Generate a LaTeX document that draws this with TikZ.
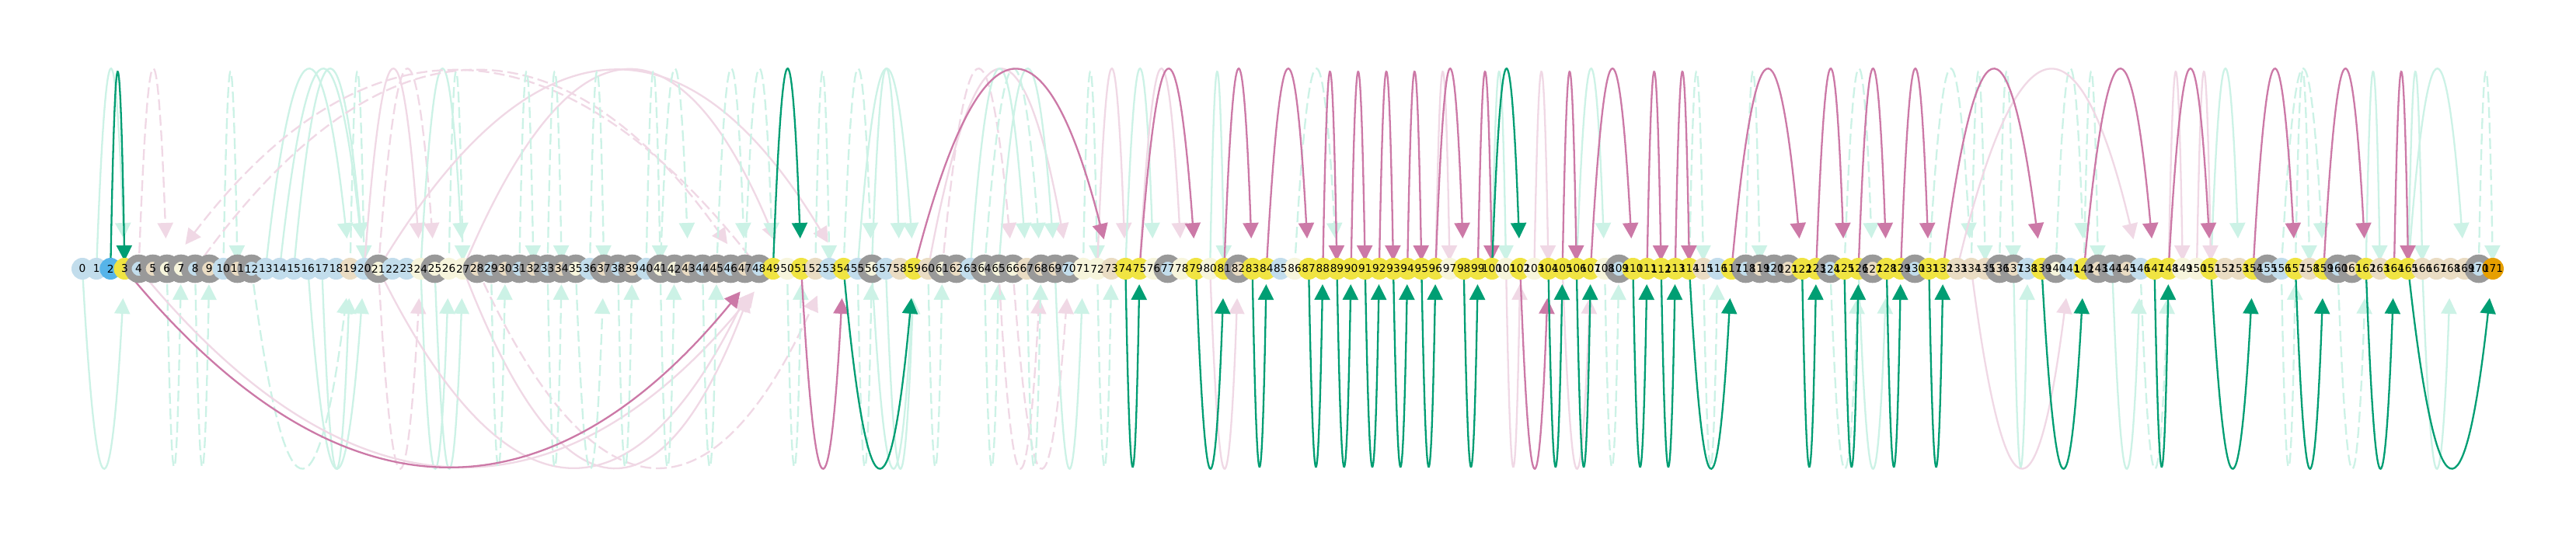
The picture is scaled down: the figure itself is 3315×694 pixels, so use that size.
\documentclass[tikz,border=0pt]{standalone}
\usepackage{fontspec}
\newfontfamily\djv{DejaVu Sans}
\usetikzlibrary{arrows.meta}
\definecolor{cL}{HTML}{C2DDEC}
\definecolor{cB}{HTML}{56B4E9}
\definecolor{cY}{HTML}{F0E442}
\definecolor{cE}{HTML}{EADCC3}
\definecolor{cC}{HTML}{F7F5DC}
\definecolor{cO}{HTML}{E69F00}
\definecolor{cR}{HTML}{999999}
\definecolor{dG}{HTML}{009E73}
\definecolor{dP}{HTML}{CC79A7}
\definecolor{fG}{HTML}{CCF2E6}
\definecolor{fP}{HTML}{F0D8E5}
\tikzset{
 edgebase/.style={line width=1.15pt,-{Triangle[length=10pt,width=10pt]}},
 dg/.style={edgebase,draw=dG},
 dp/.style={edgebase,draw=dP},
 fg/.style={edgebase,draw=fG},
 fgd/.style={fg,dash pattern=on 7pt off 3pt},
 fp/.style={edgebase,draw=fP},
 fpd/.style={fp,dash pattern=on 7pt off 3pt},
 plainnode/.style={circle,inner sep=0pt,minimum size=14pt},
 ringnode/.style={circle,inner sep=0pt,minimum size=13.7pt,draw=cR,line width=4.6pt},
 lab/.style={font=\djv\fontsize{6.85pt}{7pt}\selectfont,inner sep=0pt},
}
\newcommand\arcgen[5]{%
  \pgfmathsetmacro\arcxa{106+18.14*#2}%
  \pgfmathsetmacro\arcxb{106+18.14*#3}%
  \pgfmathsetmacro\arcca{\arcxa+(\arcxb-\arcxa)/3}%
  \pgfmathsetmacro\arccb{\arcxb-(\arcxb-\arcxa)/3}%
  \draw[#1,shorten >=#5] (p#2) .. controls (\arcca,#4) and (\arccb,#4) .. (p#3);%
}
\newcommand\arcU[3]{\pgfmathtruncatemacro\arcsp{abs(#3-#2)}\ifnum\arcsp=1 \arcgen{#1}{#2}{#3}{12.67}{5pt}\else\arcgen{#1}{#2}{#3}{12.67}{19.5pt}\fi}
\newcommand\arcD[3]{\pgfmathtruncatemacro\arcsp{abs(#3-#2)}\ifnum\arcsp=1 \arcgen{#1}{#2}{#3}{679.33}{10pt}\else\arcgen{#1}{#2}{#3}{679.33}{19pt}\fi}
\begin{document}
\begin{tikzpicture}[x=0.5pt,y=-0.5pt]
\useasboundingbox (0,0) rectangle (3315,694);
\fill[white] (0,0) rectangle (3315,694);
\foreach \i in {0,...,171} \coordinate (p\i) at ({106+18.14*\i},346);
% faint arcs above
\arcU{fg}{1}{3}
\arcU{fpd}{4}{6}
\arcU{fgd}{10}{11}
\arcU{fg}{13}{19}
\arcU{fg}{14}{20}
\arcU{fg}{15}{20}
\arcU{fgd}{19}{20}
\arcU{fp}{20}{24}
\arcU{fpd}{21}{25}
\arcU{fg}{24}{27}
\arcU{fgd}{26}{27}
\arcU{fpd}{48}{6}
\arcU{fpd}{8}{47}
\arcU{fp}{21}{54}
\arcU{fp}{27}{50}
\arcU{fgd}{31}{32}
\arcU{fgd}{33}{34}
\arcU{fgd}{36}{37}
\arcU{fgd}{40}{41}
\arcU{fgd}{41}{43}
\arcU{fgd}{45}{47}
\arcU{fgd}{47}{49}
\arcU{fgd}{52}{53}
\arcU{fgd}{54}{56}
\arcU{fg}{55}{59}
\arcU{fg}{56}{58}
\arcU{fpd}{61}{66}
\arcU{fp}{60}{70}
\arcU{fg}{63}{67}
\arcU{fgd}{64}{68}
\arcU{fg}{65}{69}
\arcU{fgd}{71}{72}
\arcU{fp}{72}{74}
\arcU{fg}{74}{76}
\arcU{fp}{75}{78}
\arcU{fg}{80}{81}
\arcU{fgd}{86}{89}
\arcU{fp}{96}{97}
\arcU{fg}{100}{101}
\arcU{fp}{103}{104}
\arcU{fg}{106}{108}
\arcU{fgd}{114}{115}
\arcU{fgd}{118}{119}
\arcU{fgd}{125}{127}
\arcU{fgd}{131}{134}
\arcU{fgd}{134}{135}
\arcU{fgd}{136}{137}
\arcU{fgd}{140}{142}
\arcU{fgd}{142}{143}
\arcU{fg}{151}{153}
\arcU{fgd}{157}{158}
\arcU{fgd}{156}{159}
\arcU{fg}{162}{163}
\arcU{fg}{165}{166}
\arcU{fg}{165}{169}
\arcU{fgd}{170}{171}
\arcU{fp}{133}{146}
\arcU{fp}{148}{149}
\arcU{fp}{150}{151}
% faint arcs below
\arcD{fg}{0}{3}
\arcD{fgd}{6}{7}
\arcD{fgd}{8}{9}
\arcD{fgd}{12}{19}
\arcD{fg}{16}{20}
\arcD{fg}{17}{19}
\arcD{fpd}{21}{24}
\arcD{fg}{24}{26}
\arcD{fg}{25}{27}
\arcD{fp}{21}{48}
\arcD{fp}{4}{49}
\arcD{fpd}{28}{53}
\arcD{fp}{27}{48}
\arcD{fgd}{29}{30}
\arcD{fgd}{33}{34}
\arcD{fgd}{35}{37}
\arcD{fgd}{38}{39}
\arcD{fgd}{41}{42}
\arcD{fgd}{44}{45}
\arcD{fgd}{50}{51}
\arcD{fgd}{55}{56}
\arcD{fg}{56}{59}
\arcD{fg}{57}{59}
\arcD{fgd}{60}{61}
\arcD{fgd}{64}{65}
\arcD{fpd}{65}{68}
\arcD{fpd}{66}{70}
\arcD{fgd}{67}{68}
\arcD{fg}{69}{71}
\arcD{fgd}{72}{73}
\arcD{fp}{80}{82}
\arcD{fp}{101}{102}
\arcD{fp}{105}{107}
\arcD{fgd}{108}{109}
\arcD{fgd}{115}{116}
\arcD{fgd}{124}{126}
\arcD{fg}{126}{128}
\arcD{fp}{134}{141}
\arcD{fg}{137}{138}
\arcD{fg}{144}{146}
\arcD{fgd}{146}{148}
\arcD{fgd}{156}{157}
\arcD{fgd}{160}{162}
\arcD{fg}{166}{168}
% dark arcs above
\arcU{dg}{2}{3}
\arcU{dg}{49}{51}
\arcU{dp}{59}{73}
\arcU{dp}{75}{79}
\arcU{dp}{81}{83}
\arcU{dp}{84}{87}
\arcU{dp}{88}{89}
\arcU{dp}{90}{91}
\arcU{dp}{92}{93}
\arcU{dp}{94}{95}
\arcU{dp}{96}{98}
\arcU{dp}{99}{100}
\arcU{dg}{100}{102}
\arcU{dp}{105}{106}
\arcU{dp}{107}{110}
\arcU{dp}{111}{112}
\arcU{dp}{113}{114}
\arcU{dp}{117}{122}
\arcU{dp}{123}{125}
\arcU{dp}{126}{128}
\arcU{dp}{129}{131}
\arcU{dp}{132}{139}
\arcU{dp}{142}{147}
\arcU{dp}{148}{151}
\arcU{dp}{154}{157}
\arcU{dp}{159}{162}
\arcU{dp}{164}{165}
% dark arcs below
\arcD{dp}{3}{48}
\arcD{dp}{51}{54}
\arcD{dg}{54}{59}
\arcD{dg}{74}{75}
\arcD{dg}{79}{81}
\arcD{dg}{83}{84}
\arcD{dg}{87}{88}
\arcD{dg}{89}{90}
\arcD{dg}{91}{92}
\arcD{dg}{93}{94}
\arcD{dg}{95}{96}
\arcD{dg}{98}{99}
\arcD{dp}{102}{104}
\arcD{dg}{104}{105}
\arcD{dg}{106}{107}
\arcD{dg}{110}{111}
\arcD{dg}{112}{113}
\arcD{dg}{114}{117}
\arcD{dg}{122}{123}
\arcD{dg}{125}{126}
\arcD{dg}{128}{129}
\arcD{dg}{131}{132}
\arcD{dg}{139}{142}
\arcD{dg}{147}{148}
\arcD{dg}{151}{154}
\arcD{dg}{157}{159}
\arcD{dg}{162}{164}
\arcD{dg}{165}{171}
% nodes
\foreach \i/\c/\r in {0/cL/0,1/cL/0,2/cB/0,3/cY/0,4/cL/1,5/cE/1,6/cC/1,7/cC/1,8/cL/1,9/cE/1,
10/cL/0,11/cE/1,12/cL/1,13/cL/0,14/cL/0,15/cL/0,16/cL/0,17/cL/0,18/cL/0,19/cE/0,
20/cL/0,21/cC/1,22/cL/0,23/cL/0,24/cC/0,25/cC/1,26/cC/0,27/cC/0,28/cE/1,29/cL/1,
30/cE/1,31/cL/1,32/cE/1,33/cL/1,34/cE/1,35/cC/1,36/cL/0,37/cE/1,38/cL/1,39/cE/1,
40/cL/0,41/cC/1,42/cC/1,43/cE/1,44/cL/1,45/cE/1,46/cL/1,47/cE/1,48/cL/1,49/cY/0,
50/cC/0,51/cY/0,52/cE/0,53/cL/0,54/cY/0,55/cL/0,56/cC/1,57/cL/0,58/cE/0,59/cY/0,
60/cE/0,61/cC/1,62/cE/1,63/cL/0,64/cC/1,65/cC/1,66/cC/1,67/cE/0,68/cE/1,69/cE/1,
70/cL/1,71/cC/0,72/cC/0,73/cE/0,74/cY/0,75/cY/0,76/cC/0,77/cL/1,78/cC/0,79/cY/0,
80/cC/0,81/cY/0,82/cE/1,83/cY/0,84/cY/0,85/cL/0,86/cC/0,87/cY/0,88/cY/0,89/cY/0,
90/cY/0,91/cY/0,92/cY/0,93/cY/0,94/cY/0,95/cY/0,96/cY/0,97/cC/0,98/cY/0,99/cY/0,
100/cY/0,101/cC/0,102/cY/0,103/cC/0,104/cY/0,105/cY/0,106/cY/0,107/cY/0,108/cC/0,109/cL/1,
110/cY/0,111/cY/0,112/cY/0,113/cY/0,114/cY/0,115/cE/0,116/cL/0,117/cY/0,118/cL/1,119/cE/1,
120/cL/1,121/cE/1,122/cY/0,123/cY/0,124/cL/1,125/cY/0,126/cY/0,127/cE/1,128/cY/0,129/cY/0,
130/cL/1,131/cY/0,132/cY/0,133/cE/0,134/cE/0,135/cE/0,136/cE/1,137/cE/1,138/cL/0,139/cY/0,
140/cC/1,141/cL/0,142/cY/0,143/cE/1,144/cL/1,145/cE/1,146/cL/0,147/cY/0,148/cY/0,149/cC/0,
150/cC/0,151/cY/0,152/cE/0,153/cE/0,154/cY/0,155/cL/1,156/cL/0,157/cY/0,158/cE/0,159/cY/0,
160/cL/1,161/cE/1,162/cY/0,163/cE/0,164/cY/0,165/cY/0,166/cE/0,167/cE/0,168/cE/0,169/cE/0,
170/cL/1,171/cO/0}{
  \ifnum\r=1\relax
    \node[ringnode,fill=\c] (n\i) at (p\i) {};
  \else
    \node[plainnode,fill=\c] (n\i) at (p\i) {};
  \fi
}
\foreach \i in {0,...,171} \node[lab] (l\i) at (p\i) {\i};
\end{tikzpicture}
\end{document}
